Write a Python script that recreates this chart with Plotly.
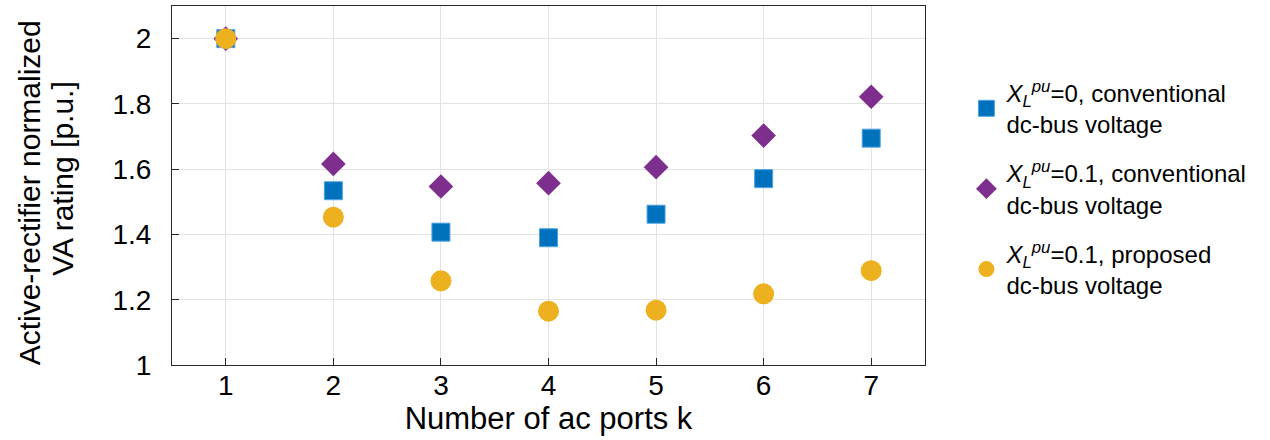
import plotly.graph_objects as go

# Number of ac ports
ports = [1, 2, 3, 4, 5, 6, 7]

# Normalized VA rating of the active rectifier [p.u.]
va_xl0_conv = [2.000, 1.534, 1.407, 1.390, 1.462, 1.571, 1.695]
va_xl01_conv = [2.000, 1.616, 1.547, 1.557, 1.606, 1.703, 1.822]
va_xl01_prop = [2.000, 1.453, 1.258, 1.165, 1.168, 1.218, 1.289]

x_ticks = [1, 2, 3, 4, 5, 6, 7]
y_ticks = [1, 1.2, 1.4, 1.6, 1.8, 2]
y_tick_text = ["1", "1.2", "1.4", "1.6", "1.8", "2"]

series_names = [
    "<i>X</i><sub><i>L</i></sub><sup><i>pu</i></sup>=0, conventional<br>dc-bus voltage",
    "<i>X</i><sub><i>L</i></sub><sup><i>pu</i></sup>=0.1, conventional<br>dc-bus voltage",
    "<i>X</i><sub><i>L</i></sub><sup><i>pu</i></sup>=0.1, proposed<br>dc-bus voltage",
]
y_title_lines = ["Active-rectifier normalized", "VA rating [p.u.]"]

FONT = "Liberation Sans, Arial, Helvetica, sans-serif"
AX_COLOR = "#262626"
GRID = "#E3E3E3"

fig = go.Figure()

fig.add_trace(go.Scatter(
    x=ports, y=va_xl0_conv, mode="markers", name=series_names[0],
    legendgroup="a",
    marker=dict(symbol="square", size=18, color="#0072BD",
                line=dict(color="#4DA3E0", width=1)),
))
fig.add_trace(go.Scatter(
    x=ports, y=va_xl01_conv, mode="markers", name=series_names[1],
    legendgroup="b",
    marker=dict(symbol="diamond", size=19, color="#7E2F8E",
                line=dict(color="#7E2F8E", width=0)),
))
fig.add_trace(go.Scatter(
    x=ports, y=va_xl01_prop, mode="markers", name=series_names[2],
    legendgroup="c",
    marker=dict(symbol="circle", size=21, color="#EDB120",
                line=dict(color="#EDB120", width=0)),
))

axis_common = dict(
    showline=True, linecolor=AX_COLOR, linewidth=1, mirror=True,
    showgrid=True, gridcolor=GRID, gridwidth=1,
    ticks="inside", ticklen=7, tickcolor=AX_COLOR, tickwidth=1,
    tickfont=dict(family=FONT, size=28, color="#000000"),
    zeroline=False,
)

fig.update_xaxes(
    range=[0.5, 7.5], tickvals=x_ticks, ticklabelstandoff=-5,
    title=dict(text="Number of ac ports k", standoff=2,
               font=dict(family=FONT, size=31, color="#000000")),
    **axis_common,
)
fig.update_yaxes(
    range=[1, 2.1], tickvals=y_ticks, ticktext=y_tick_text,
    ticklabelstandoff=14,
    **axis_common,
)

# Two-line y-axis title, one annotation per line
fig.add_annotation(
    text=y_title_lines[0], textangle=-90, showarrow=False,
    xref="paper", yref="paper", x=-0.189, y=0.48,
    xanchor="center", yanchor="middle",
    font=dict(family=FONT, size=30, color="#000000"),
)
fig.add_annotation(
    text=y_title_lines[1], textangle=-90, showarrow=False,
    xref="paper", yref="paper", x=-0.145, y=0.521,
    xanchor="center", yanchor="middle",
    font=dict(family=FONT, size=30, color="#000000"),
)

fig.update_layout(
    width=1270, height=440,
    margin=dict(l=172, r=345, t=6, b=75),
    paper_bgcolor="white", plot_bgcolor="white",
    font=dict(family=FONT, color="#000000"),
    showlegend=True,
    legend=dict(
        x=1.055, y=0.82, xanchor="left", yanchor="top",
        font=dict(family=FONT, size=24, color="#000000"),
        tracegroupgap=15, bgcolor="rgba(0,0,0,0)",
    ),
)

fig.write_html("out.html")
